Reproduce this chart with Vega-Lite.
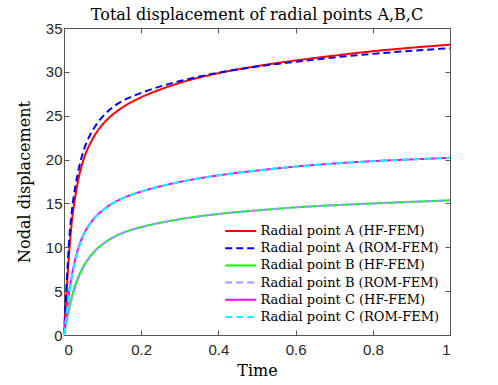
{
  "$schema": "https://vega.github.io/schema/vega-lite/v6.json",
  "width": 386,
  "height": 307,
  "autosize": {"type": "none"},
  "padding": {"left": 64, "top": 28, "right": 48, "bottom": 50},
  "background": "white",
  "title": {"text": "Total displacement of radial points A,B,C", "font": "DejaVu Serif", "fontSize": 16, "fontWeight": "normal", "color": "#000000", "offset": -2, "anchor": "middle"},
  "data": {
    "values": [
      {"t": 0, "A_HF": 0, "A_ROM": 0, "B_HF": 0, "B_ROM": 0, "C_HF": 0, "C_ROM": 0},
      {"t": 0.005, "A_HF": 3.6, "A_ROM": 4.3, "B_HF": 1.2, "B_ROM": 1.0, "C_HF": 2.0, "C_ROM": 1.8},
      {"t": 0.01, "A_HF": 7.2, "A_ROM": 8.4, "B_HF": 2.4, "B_ROM": 2.1, "C_HF": 3.8, "C_ROM": 3.5},
      {"t": 0.015, "A_HF": 10.3, "A_ROM": 11.7, "B_HF": 3.45, "B_ROM": 3.15, "C_HF": 5.4, "C_ROM": 5.1},
      {"t": 0.02, "A_HF": 12.8, "A_ROM": 14.0, "B_HF": 4.35, "B_ROM": 4.05, "C_HF": 6.7, "C_ROM": 6.45},
      {"t": 0.03, "A_HF": 16.0, "A_ROM": 17.1, "B_HF": 5.8, "B_ROM": 5.55, "C_HF": 8.8, "C_ROM": 8.6},
      {"t": 0.04, "A_HF": 18.3, "A_ROM": 19.3, "B_HF": 6.9, "B_ROM": 6.7, "C_HF": 10.3, "C_ROM": 10.15},
      {"t": 0.05, "A_HF": 19.9, "A_ROM": 20.9, "B_HF": 7.8, "B_ROM": 7.65, "C_HF": 11.4, "C_ROM": 11.3},
      {"t": 0.06, "A_HF": 21.1, "A_ROM": 22.1, "B_HF": 8.5, "B_ROM": 8.4, "C_HF": 12.2, "C_ROM": 12.12},
      {"t": 0.07, "A_HF": 22.0, "A_ROM": 23.0, "B_HF": 9.1, "B_ROM": 9.02, "C_HF": 12.85, "C_ROM": 12.8},
      {"t": 0.08, "A_HF": 22.8, "A_ROM": 23.75, "B_HF": 9.6, "B_ROM": 9.54, "C_HF": 13.4, "C_ROM": 13.36},
      {"t": 0.1, "A_HF": 24.0, "A_ROM": 24.9, "B_HF": 10.35, "B_ROM": 10.31, "C_HF": 14.2, "C_ROM": 14.18},
      {"t": 0.12, "A_HF": 24.9, "A_ROM": 25.75, "B_HF": 10.95, "B_ROM": 10.92, "C_HF": 14.85, "C_ROM": 14.84},
      {"t": 0.15, "A_HF": 25.9, "A_ROM": 26.65, "B_HF": 11.6, "B_ROM": 11.58, "C_HF": 15.55, "C_ROM": 15.55},
      {"t": 0.2, "A_HF": 27.1, "A_ROM": 27.6, "B_HF": 12.3, "B_ROM": 12.29, "C_HF": 16.35, "C_ROM": 16.35},
      {"t": 0.25, "A_HF": 28.0, "A_ROM": 28.35, "B_HF": 12.8, "B_ROM": 12.8, "C_HF": 16.95, "C_ROM": 16.95},
      {"t": 0.3, "A_HF": 28.75, "A_ROM": 28.95, "B_HF": 13.2, "B_ROM": 13.2, "C_HF": 17.45, "C_ROM": 17.45},
      {"t": 0.4, "A_HF": 29.85, "A_ROM": 29.9, "B_HF": 13.8, "B_ROM": 13.8, "C_HF": 18.2, "C_ROM": 18.2},
      {"t": 0.5, "A_HF": 30.65, "A_ROM": 30.6, "B_HF": 14.2, "B_ROM": 14.2, "C_HF": 18.75, "C_ROM": 18.75},
      {"t": 0.6, "A_HF": 31.3, "A_ROM": 31.15, "B_HF": 14.55, "B_ROM": 14.55, "C_HF": 19.2, "C_ROM": 19.2},
      {"t": 0.7, "A_HF": 31.85, "A_ROM": 31.65, "B_HF": 14.8, "B_ROM": 14.8, "C_HF": 19.55, "C_ROM": 19.55},
      {"t": 0.8, "A_HF": 32.35, "A_ROM": 32.05, "B_HF": 15.0, "B_ROM": 15.0, "C_HF": 19.82, "C_ROM": 19.82},
      {"t": 0.9, "A_HF": 32.75, "A_ROM": 32.4, "B_HF": 15.18, "B_ROM": 15.18, "C_HF": 20.02, "C_ROM": 20.02},
      {"t": 1.0, "A_HF": 33.1, "A_ROM": 32.7, "B_HF": 15.35, "B_ROM": 15.35, "C_HF": 20.2, "C_ROM": 20.2}
    ]
  },
  "transform": [
    {"fold": ["A_HF", "A_ROM", "B_HF", "B_ROM", "C_HF", "C_ROM"], "as": ["series", "value"]}
  ],
  "layer": [
    {
      "mark": {"type": "line", "strokeWidth": 2, "interpolate": "monotone"},
      "encoding": {
        "x": {"field": "t", "type": "quantitative", "scale": {"domain": [0, 1], "nice": false},
              "axis": {"orient": "bottom", "title": "Time", "values": [0, 0.2, 0.4, 0.6, 0.8, 1], "format": "~g", "labelPadding": 12, "titleFont": "DejaVu Serif", "titleFontSize": 16, "titleFontWeight": "normal", "titleColor": "#000000", "titlePadding": 5}},
        "y": {"field": "value", "type": "quantitative", "scale": {"domain": [0, 35], "nice": false},
              "axis": {"orient": "left", "title": "Nodal displacement", "values": [0, 5, 10, 15, 20, 25, 30, 35], "titleFont": "DejaVu Serif", "titleFontSize": 16, "titleFontWeight": "normal", "titleColor": "#000000", "titlePadding": 13}},
        "color": {"field": "series", "type": "nominal",
                  "scale": {"domain": ["A_HF", "A_ROM", "B_HF", "B_ROM", "C_HF", "C_ROM"], "range": ["#ff0000", "#0000ff", "#00ff00", "#9999ff", "#ff00ff", "#00ffff"]},
                  "legend": {"title": null, "labelFont": "DejaVu Serif", "labelFontSize": 13, "labelLimit": 400,
                             "encode": {"labels": {"update": {"font": {"value": "DejaVu Serif"}, "fontSize": {"value": 13}}}},
                             "labelExpr": "{'A_HF':'Radial point A (HF-FEM)','A_ROM':'Radial point A (ROM-FEM)','B_HF':'Radial point B (HF-FEM)','B_ROM':'Radial point B (ROM-FEM)','C_HF':'Radial point C (HF-FEM)','C_ROM':'Radial point C (ROM-FEM)'}[datum.value]"}},
        "strokeDash": {"field": "series", "type": "nominal",
                       "scale": {"domain": ["A_HF", "A_ROM", "B_HF", "B_ROM", "C_HF", "C_ROM"], "range": [[1, 0], [7, 4], [1, 0], [7, 4], [1, 0], [7, 4]]},
                       "legend": {"title": null, "labelFont": "DejaVu Serif", "labelFontSize": 13, "labelLimit": 400,
                                  "encode": {"labels": {"update": {"font": {"value": "DejaVu Serif"}, "fontSize": {"value": 13}}}},
                                  "labelExpr": "{'A_HF':'Radial point A (HF-FEM)','A_ROM':'Radial point A (ROM-FEM)','B_HF':'Radial point B (HF-FEM)','B_ROM':'Radial point B (ROM-FEM)','C_HF':'Radial point C (HF-FEM)','C_ROM':'Radial point C (ROM-FEM)'}[datum.value]"}}
      }
    },
    {
      "mark": {"type": "line", "opacity": 0},
      "encoding": {
        "x": {"field": "t", "type": "quantitative", "axis": {"orient": "top", "title": null, "labels": false, "values": [0, 0.2, 0.4, 0.6, 0.8, 1]}},
        "y": {"field": "value", "type": "quantitative", "axis": {"orient": "right", "title": null, "labels": false, "values": [0, 5, 10, 15, 20, 25, 30, 35]}},
        "detail": {"field": "series"}
      }
    }
  ],
  "resolve": {"axis": {"x": "independent", "y": "independent"}},
  "config": {
    "view": {"stroke": null},
    "axis": {"grid": false, "domainColor": "#555555", "domainWidth": 1, "tickColor": "#555555", "tickSize": -5, "tickWidth": 1, "labelFont": "Liberation Sans", "labelFontSize": 15, "labelColor": "#262626", "labelPadding": 7},
    "legend": {"orient": "none", "legendX": 160, "legendY": 194, "symbolType": "M-1,0H3", "symbolSize": 240, "symbolStrokeWidth": 2, "labelFont": "DejaVu Serif", "labelFontSize": 13, "labelColor": "#000000", "labelOffset": 18.5, "rowPadding": 1.2, "padding": 0, "labelLimit": 400}
  }
}
